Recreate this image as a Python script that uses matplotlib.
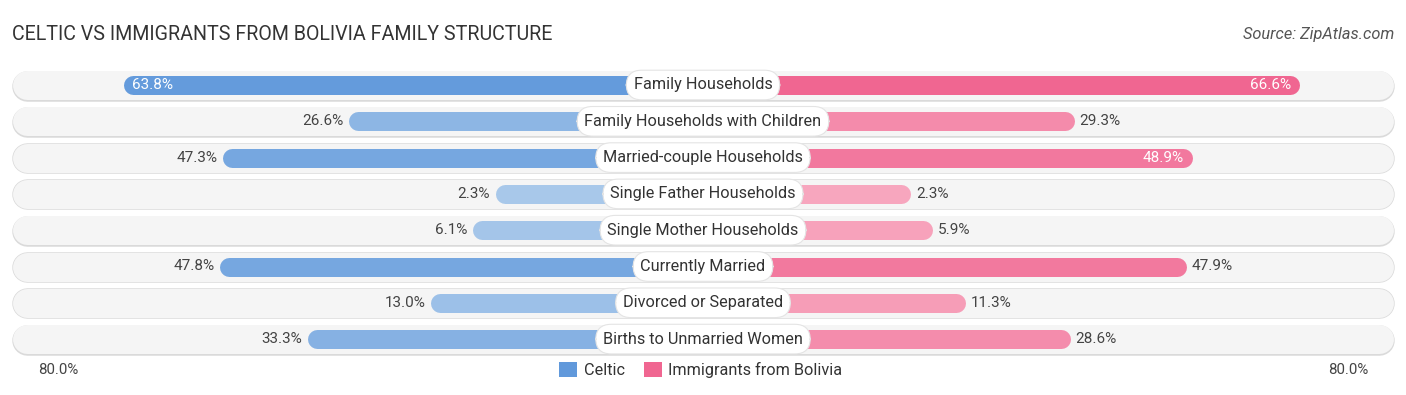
import matplotlib.pyplot as plt
from matplotlib.patches import Patch
import numpy as np

plt.rcParams['font.family'] = ['Roboto', 'DejaVu Sans']

categories = ['Family Households', 'Family Households with Children', 'Married-couple Households',
              'Single Father Households', 'Single Mother Households', 'Currently Married',
              'Divorced or Separated', 'Births to Unmarried Women']
celtic = [63.8, 26.6, 47.3, 2.3, 6.1, 47.8, 13.0, 33.3]
bolivia = [66.6, 29.3, 48.9, 2.3, 5.9, 47.9, 11.3, 28.6]
series_names = ['Celtic', 'Immigrants from Bolivia']
axis_max = 80.0

W, H = 1406, 395
px = 6.05          # pixels per percent
off = 194 / px     # bars start behind the centre label
half = (W / 2) / px

blue_hi, blue_lo = np.array([0.38, 0.60, 0.86]), np.array([0.67, 0.79, 0.92])
pink_hi, pink_lo = np.array([0.94, 0.40, 0.57]), np.array([0.97, 0.66, 0.75])


def shade(lo, hi, v):
    t = min(v / 66.6, 1.0)
    return tuple(lo + (hi - lo) * t)


fig = plt.figure(figsize=(W / 100, H / 100), dpi=100)
ax = fig.add_axes([0, 0, 1, 1])
ax.set_xlim(-half, half)
ax.set_ylim(H, 0)
ax.axis('off')

pt = 0.72  # points per pixel
row_y = [85 + i * 36.3 for i in range(len(categories))]
bar_cap = 9.5 / px
bg_cap = 15 / px
bg_end = (W / 2 - 12) / px - bg_cap

for i, y in enumerate(row_y):
    # row background pill
    ax.plot([-bg_end, bg_end], [y + 0.6, y + 0.6], color='#dadada', lw=30.5 * pt,
            solid_capstyle='round', zorder=1)
    ax.plot([-bg_end, bg_end], [y, y], color='#f5f5f5', lw=29 * pt,
            solid_capstyle='round', zorder=1)

    c, b = celtic[i], bolivia[i]
    lx = -(off + c) + bar_cap
    rx = (off + b) - bar_cap
    ax.plot([lx, 0], [y, y], color=shade(blue_lo, blue_hi, c), lw=19 * pt,
            solid_capstyle='round', zorder=2)
    ax.plot([0, rx], [y, y], color=shade(pink_lo, pink_hi, b), lw=19 * pt,
            solid_capstyle='round', zorder=2)

    if c > 48:
        ax.text(-(off + c) + 9 / px, y, f'{c:.1f}%', color='white', fontsize=11,
                ha='left', va='center', zorder=4)
    else:
        ax.text(-(off + c) - 5 / px, y, f'{c:.1f}%', color='#444444', fontsize=11,
                ha='right', va='center', zorder=4)
    if b > 48:
        ax.text((off + b) - 9 / px, y, f'{b:.1f}%', color='white', fontsize=11,
                ha='right', va='center', zorder=4)
    else:
        ax.text((off + b) + 5 / px, y, f'{b:.1f}%', color='#444444', fontsize=11,
                ha='left', va='center', zorder=4)

    ax.text(0, y, categories[i], ha='center', va='center', fontsize=11.7, color='#333333',
            zorder=5, bbox=dict(boxstyle='round,pad=0.45,rounding_size=0.95',
                                fc='white', ec='#e4e4e4', lw=0.8))

# title and source
ax.text(12 / px - half, 34, 'CELTIC VS IMMIGRANTS FROM BOLIVIA FAMILY STRUCTURE',
        fontsize=14.1, color='#333333', ha='left', va='center')
ax.text(half - 12 / px, 34, 'Source: ZipAtlas.com', fontsize=11.8, color='#555555',
        ha='right', va='center', style='italic')

# axis end labels
ax.text(-(off + axis_max) + 13 / px, 370, f'{axis_max:.1f}%', fontsize=10.8,
        color='#444444', ha='left', va='center')
ax.text((off + axis_max) - 13 / px, 370, f'{axis_max:.1f}%', fontsize=10.8,
        color='#444444', ha='right', va='center')

handles = [Patch(facecolor=tuple(blue_hi), label=series_names[0]),
           Patch(facecolor=tuple(pink_hi), label=series_names[1])]
ax.legend(handles=handles, loc='center', bbox_to_anchor=(0.4985, 1 - 370 / H), ncol=2,
          frameon=False, fontsize=11.7, handlelength=1.1, handleheight=1.1,
          handletextpad=0.4, columnspacing=1.2, labelcolor='#333333')

fig.savefig('out.png', dpi=100, facecolor='white')
